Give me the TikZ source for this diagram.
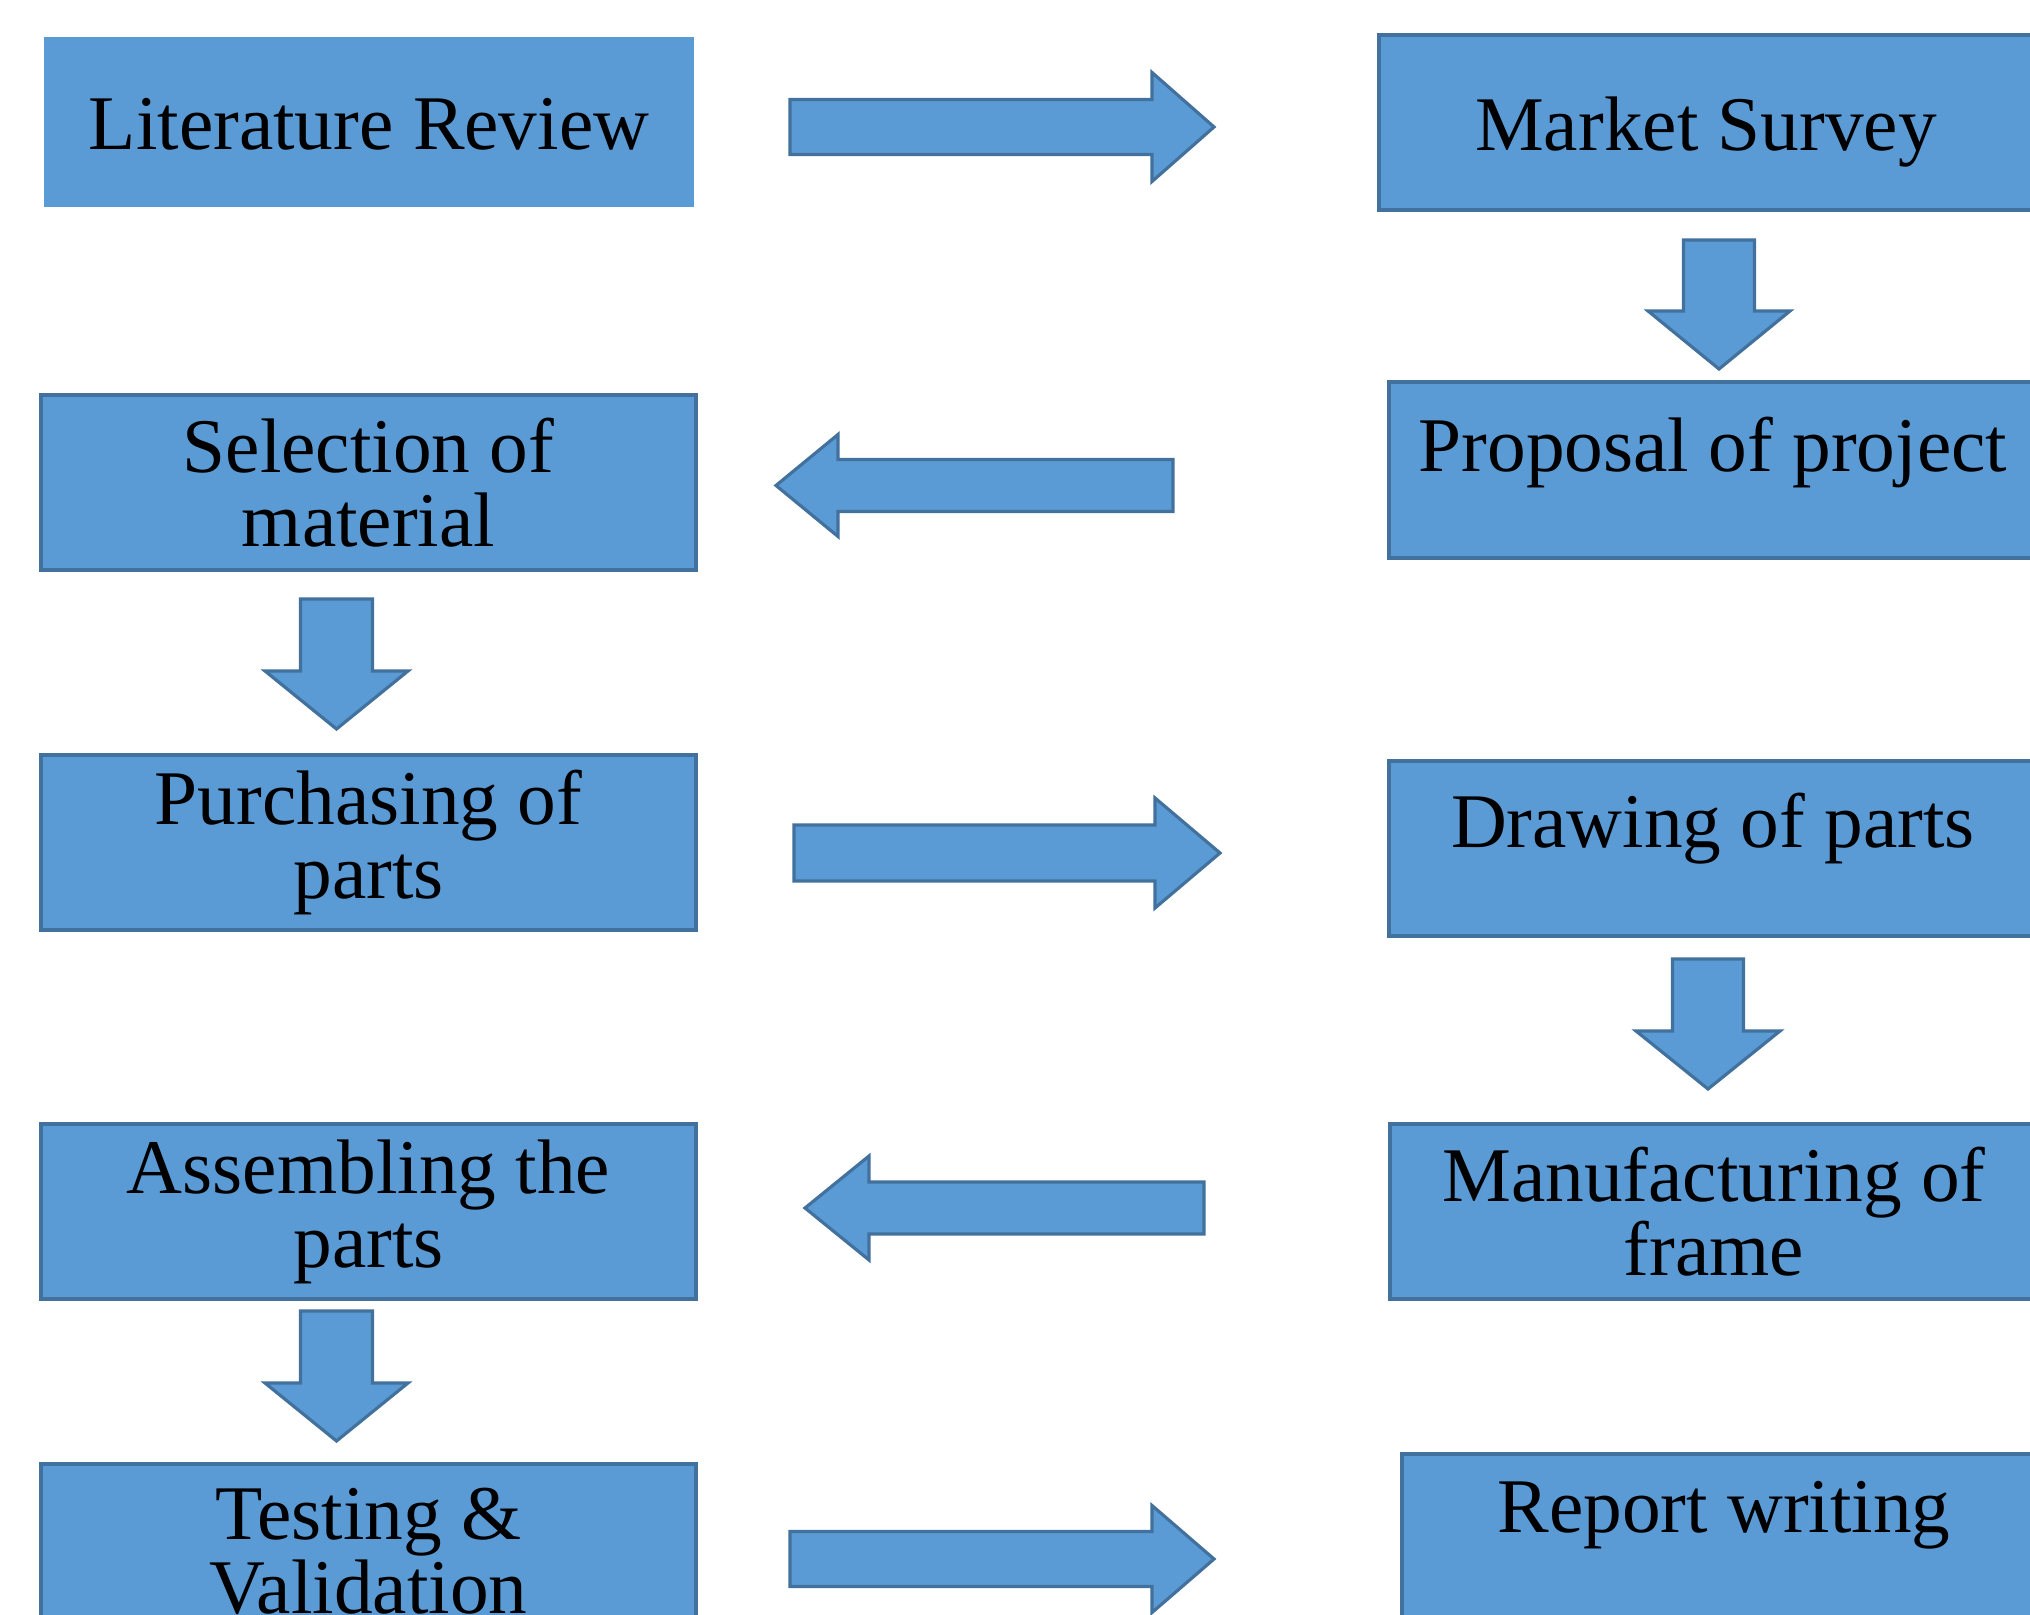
\documentclass[tikz,border=0pt]{standalone}
\usepackage{fontspec}
\setmainfont{Liberation Serif}
\usetikzlibrary{calc}
\definecolor{boxfill}{HTML}{5B9BD5}
\definecolor{boxline}{HTML}{41719C}
\tikzset{
	box/.style={rectangle, fill=boxfill, draw=boxline, line width=0.9pt, inner sep=0pt, align=center,
		minimum width=6.55cm, minimum height=1.75cm, font=\fontsize{22pt}{21pt}\selectfont},
	blockarrow/.style={fill=boxfill, draw=boxline, line width=0.9pt, line join=miter}
}
% tail, tip, half shaft, half head, head length
\newcommand{\bigarrow}[5]{%
	\coordinate (tail) at #1;
	\coordinate (tip) at #2;
	\coordinate (hb) at ($(tip)!#5!(tail)$);
	\draw[blockarrow] ($(tail)!#3!90:(tip)$) -- ($(hb)!#3!90:(tip)$) -- ($(hb)!#4!90:(tip)$) -- (tip)
		-- ($(hb)!#4!-90:(tip)$) -- ($(hb)!#3!-90:(tip)$) -- ($(tail)!#3!-90:(tip)$) -- cycle;}

\begin{document}
\begin{tikzpicture}
	\path[use as bounding box, fill=white] (0,0) rectangle (20.3,-16.15);
	\clip (0,0) rectangle (20.3,-16.15);
	% left column
	\node[box, draw=none, minimum width=6.5cm, minimum height=1.7cm, text height=0.6cm, text depth=0.044cm] (litreview) at (3.69,-1.22) {Literature Review};
	\node[box] (selection) at (3.685,-4.825) {Selection of\\material};
	\node[box] (purchase) at (3.685,-8.425) {Purchasing of\\parts};
	\node[box] (assembly) at (3.685,-12.115) {Assembling the\\parts};
	\node[box] (testing) at (3.685,-15.515) {Testing \&\\Validation};
	% right column
	\node[box, minimum width=6.54cm, text height=0.6cm, text depth=0.032cm] (market) at (17.06,-1.225) {Market Survey};
	\node[box, minimum width=6.48cm, minimum height=1.76cm, text height=0.6cm, text depth=0.562cm] (proposal) at (17.13,-4.70) {Proposal of project};
	\node[box, minimum width=6.48cm, text height=0.6cm, text depth=0.622cm] (drawing) at (17.13,-8.485) {Drawing of parts};
	\node[box, minimum width=6.48cm] (manufacture) at (17.14,-12.115) {Manufacturing of\\frame};
	\node[box, minimum width=6.44cm, text height=0.6cm, text depth=0.786cm] (report) at (17.24,-15.415) {Report writing};
	% block arrows
	\bigarrow{(7.90,-1.27)}{(12.14,-1.27)}{0.275cm}{0.545cm}{0.62cm}
	\bigarrow{(17.19,-2.40)}{(17.19,-3.69)}{0.355cm}{0.71cm}{0.58cm}
	\bigarrow{(11.73,-4.855)}{(7.76,-4.855)}{0.26cm}{0.51cm}{0.62cm}
	\bigarrow{(3.365,-5.99)}{(3.365,-7.29)}{0.36cm}{0.715cm}{0.58cm}
	\bigarrow{(7.94,-8.53)}{(12.20,-8.53)}{0.28cm}{0.55cm}{0.65cm}
	\bigarrow{(17.08,-9.59)}{(17.08,-10.89)}{0.355cm}{0.72cm}{0.58cm}
	\bigarrow{(12.04,-12.08)}{(8.05,-12.08)}{0.26cm}{0.52cm}{0.64cm}
	\bigarrow{(3.365,-13.11)}{(3.365,-14.41)}{0.36cm}{0.715cm}{0.58cm}
	\bigarrow{(7.90,-15.59)}{(12.14,-15.59)}{0.275cm}{0.535cm}{0.62cm}
\end{tikzpicture}
\end{document}
